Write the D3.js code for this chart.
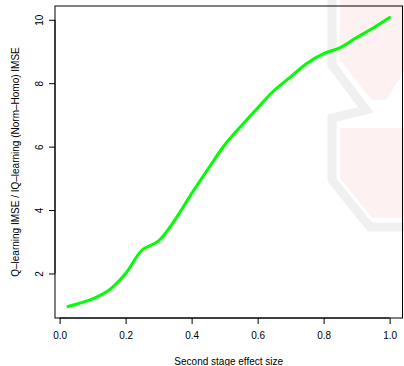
<!DOCTYPE html>
<html>
<head>
<meta charset="utf-8">
<script src="https://cdn.jsdelivr.net/npm/d3@7"></script>
<style>
  body { margin: 0; background: #fff; }
  svg text { font-family: "Liberation Sans", Arial, sans-serif; font-size: 10px; fill: #000; }
</style>
</head>
<body>
<div id="chart"></div>
<script>
// values
const effectSize = [0.025, 0.05, 0.1, 0.15, 0.2, 0.25, 0.3, 0.35, 0.4, 0.45, 0.5,
                    0.55, 0.6, 0.65, 0.7, 0.75, 0.8, 0.85, 0.9, 0.95, 1.0];
const imseRatio = [0.96, 1.03, 1.20, 1.48, 2.00, 2.74, 3.03, 3.70, 4.52, 5.30, 6.05,
                   6.65, 7.22, 7.77, 8.20, 8.63, 8.93, 9.12, 9.44, 9.74, 10.07];
const xTicks = [0.0, 0.2, 0.4, 0.6, 0.8, 1.0];
const yTicks = [2, 4, 6, 8, 10];
const xTitle = "Second stage effect size";
const yTitle = "Q\u2013learning IMSE / IQ\u2013learning (Norm\u2013Homo) IMSE";

// faint background logo (decoration only, pixel space)
const logoPink = [
  [[340, 0], [404, 0], [404, 72], [386, 100], [372, 100], [340, 60]],
  [[340, 128], [404, 128], [404, 218], [372, 218], [340, 178]]
];
const logoGray = [[332, 0], [332, 65], [366, 110], [332, 118], [332, 180], [370, 227], [404, 227]];

const width = 404, height = 366;
const margin = {top: 6, right: 1.5, bottom: 48, left: 55};

const svg = d3.select('#chart')
  .append('svg')
  .attr('width', width)
  .attr('height', height);

svg.selectAll('polygon.logo')
  .data(logoPink)
  .join('polygon')
  .attr('class', 'logo')
  .attr('points', d => d.join(' '))
  .attr('fill', '#fdf1f1');

svg.append('polyline')
  .attr('points', logoGray.join(' '))
  .attr('fill', 'none')
  .attr('stroke', '#f0f0f0')
  .attr('stroke-width', 9);

// R style: extend data range by 4% on each side
const xExt = d3.extent(effectSize), yExt = d3.extent(imseRatio);
const xPad = (xExt[1] - xExt[0]) * 0.04, yPad = (yExt[1] - yExt[0]) * 0.04;

const x = d3.scaleLinear()
  .domain([xExt[0] - xPad, xExt[1] + xPad])
  .range([margin.left, width - margin.right]);
const y = d3.scaleLinear()
  .domain([yExt[0] - yPad, yExt[1] + yPad])
  .range([height - margin.bottom, margin.top]);

const xAxis = svg.append('g')
  .attr('transform', `translate(0,${height - margin.bottom})`)
  .call(d3.axisBottom(x).tickValues(xTicks).tickFormat(d3.format('.1f')).tickSize(6).tickPadding(8));
xAxis.select('.domain')
  .attr('d', `M${x(xTicks[0])},0H${x(xTicks[xTicks.length - 1])}`);

const yAxis = svg.append('g')
  .attr('transform', `translate(${margin.left},0)`)
  .call(d3.axisLeft(y).tickValues(yTicks).tickSize(6));
yAxis.select('.domain')
  .attr('d', `M0,${y(yTicks[0])}V${y(yTicks[yTicks.length - 1])}`);
yAxis.selectAll('.tick text')
  .attr('x', 0).attr('dy', null)
  .attr('text-anchor', 'middle')
  .attr('dominant-baseline', 'central')
  .attr('transform', 'translate(-16,0) rotate(-90)');

svg.selectAll('.tick text').style('font-size', '10px').style('font-family', '"Liberation Sans", Arial, sans-serif');
svg.selectAll('.domain, .tick line').attr('stroke', '#000');

// plot box
svg.append('rect')
  .attr('x', margin.left).attr('y', margin.top)
  .attr('width', width - margin.left - margin.right)
  .attr('height', height - margin.top - margin.bottom)
  .attr('fill', 'none')
  .attr('stroke', '#000');

const line = d3.line()
  .x((d, i) => x(effectSize[i]))
  .y(d => y(d))
  .curve(d3.curveCatmullRom.alpha(0.5));

svg.append('path')
  .datum(imseRatio)
  .attr('d', line)
  .attr('fill', 'none')
  .attr('stroke', '#00ff00')
  .attr('stroke-width', 3)
  .attr('stroke-linecap', 'round');

svg.append('text')
  .attr('x', (margin.left + width - margin.right) / 2)
  .attr('y', 361)
  .attr('text-anchor', 'middle')
  .attr('dominant-baseline', 'central')
  .text(xTitle);

svg.append('text')
  .attr('transform', `translate(15,${(margin.top + height - margin.bottom) / 2}) rotate(-90)`)
  .attr('text-anchor', 'middle')
  .attr('dominant-baseline', 'central')
  .text(yTitle);
</script>
</body>
</html>
